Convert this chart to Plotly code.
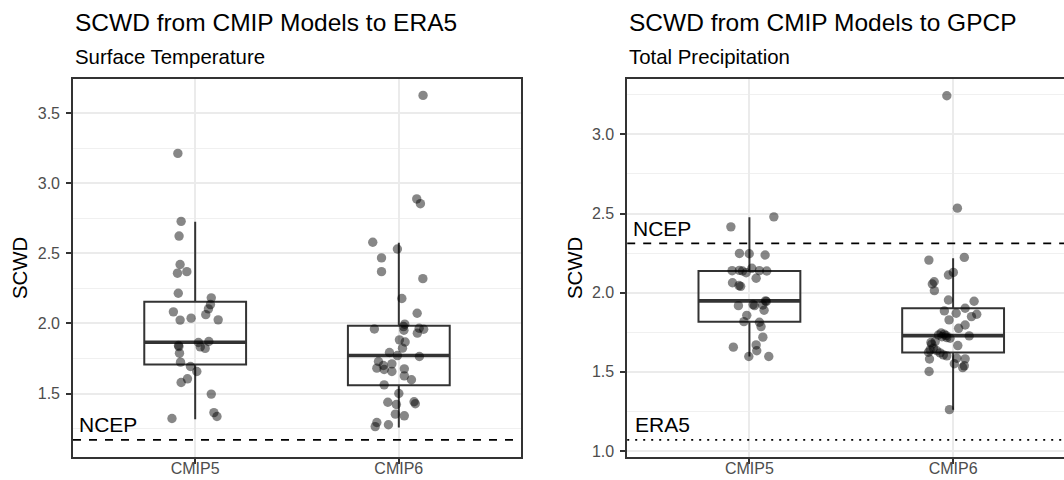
import plotly.graph_objects as go

# ---------------------------------------------------------------- data
categories = ["CMIP5", "CMIP6"]

# Surface temperature: SCWD of each model against ERA5
tas_cmip5 = [3.214, 2.729, 2.624, 2.421, 2.370, 2.359, 2.216, 2.183, 2.135, 2.104,
             2.063, 2.083, 2.024, 2.038, 2.026, 1.871, 1.864, 1.843, 1.835, 1.833,
             1.822, 1.788, 1.724, 1.693, 1.657, 1.605, 1.579, 1.496, 1.364, 1.336,
             1.322]
tas_cmip5_jitter = [-0.085, -0.069, -0.079, -0.074, -0.041, -0.087, -0.083, 0.079, 0.075, 0.065,
                    0.052, -0.107, -0.074, -0.020, 0.113, 0.067, 0.016, -0.082, -0.080, 0.025,
                    0.049, -0.077, -0.072, -0.023, 0.008, -0.038, -0.069, 0.079, 0.092, 0.107,
                    -0.114]
tas_cmip6 = [3.628, 2.889, 2.855, 2.580, 2.532, 2.468, 2.370, 2.320, 2.178, 2.073,
             1.995, 1.978, 1.966, 1.961, 1.959, 1.952, 1.931, 1.883, 1.868, 1.824,
             1.793, 1.771, 1.764, 1.729, 1.712, 1.700, 1.681, 1.676, 1.672, 1.657,
             1.626, 1.598, 1.562, 1.500, 1.441, 1.438, 1.427, 1.422, 1.353, 1.341,
             1.293, 1.277, 1.264]
tas_cmip6_jitter = [0.119, 0.088, 0.106, -0.128, -0.007, -0.085, -0.085, 0.118, 0.015, 0.090,
                    0.029, 0.023, 0.100, -0.120, 0.122, 0.025, 0.091, 0.003, 0.031, 0.018,
                    -0.046, -0.007, 0.101, -0.100, -0.034, -0.076, -0.108, 0.027, -0.072, -0.034,
                    0.027, 0.062, -0.072, 0.000, 0.075, -0.054, 0.081, -0.012, -0.017, 0.027,
                    -0.108, -0.051, -0.116]
tas_lower = [1.317, 1.258]
tas_q1 = [1.707, 1.559]
tas_median = [1.866, 1.771]
tas_q3 = [2.155, 1.983]
tas_upper = [2.726, 2.576]
tas_ref_names = ["NCEP"]
tas_ref_values = [1.169]

# Total precipitation: SCWD of each model against GPCP
pr_cmip5 = [2.479, 2.416, 2.248, 2.246, 2.238, 2.154, 2.141, 2.139, 2.139, 2.137,
            2.137, 2.126, 2.091, 2.063, 2.045, 2.040, 1.948, 1.945, 1.925, 1.922,
            1.918, 1.918, 1.889, 1.857, 1.817, 1.813, 1.786, 1.719, 1.670, 1.656,
            1.633, 1.597, 1.597]
pr_cmip5_jitter = [0.120, -0.091, -0.049, -0.001, 0.077, 0.012, -0.049, -0.085, 0.049, -0.034,
                   0.085, -0.016, 0.033, -0.083, -0.051, -0.043, 0.079, 0.083, 0.018, 0.066,
                   -0.054, 0.025, 0.072, -0.013, -0.027, 0.049, 0.057, 0.066, 0.033, -0.079,
                   0.036, -0.003, 0.095]
pr_cmip6 = [3.244, 2.534, 2.223, 2.206, 2.128, 2.112, 2.069, 2.055, 2.013, 1.954,
            1.946, 1.902, 1.885, 1.870, 1.864, 1.849, 1.828, 1.796, 1.775, 1.745,
            1.738, 1.733, 1.729, 1.727, 1.722, 1.716, 1.712, 1.691, 1.685, 1.675,
            1.666, 1.650, 1.639, 1.633, 1.624, 1.620, 1.607, 1.601, 1.586, 1.582,
            1.581, 1.551, 1.538, 1.527, 1.502, 1.261]
pr_cmip6_jitter = [-0.031, 0.021, 0.055, -0.119, 0.001, -0.023, -0.093, -0.102, -0.092, -0.023,
                   0.103, 0.059, -0.043, 0.015, 0.116, 0.090, -0.020, 0.059, 0.027, -0.059,
                   -0.044, -0.072, -0.034, 0.079, -0.055, -0.031, -0.015, -0.088, -0.109, -0.105,
                   0.023, -0.097, -0.113, -0.080, -0.121, -0.064, -0.048, -0.031, 0.018, 0.059,
                   -0.116, 0.006, 0.055, 0.047, -0.118, -0.018]
pr_lower = [1.597, 1.261]
pr_q1 = [1.817, 1.622]
pr_median = [1.948, 1.729]
pr_q3 = [2.137, 1.902]
pr_upper = [2.476, 2.218]
pr_ref_names = ["NCEP", "ERA5"]
pr_ref_values = [2.311, 1.070]

# ---------------------------------------------------------------- styling
FONT = "Liberation Sans, Arial, Helvetica, sans-serif"
W, H = 1064, 480
M_L, M_R, M_T, M_B = 73, 0, 79, 23
PW = W - M_L - M_R
PH = H - M_T - M_B
BOX_W = 0.5
DARK = "#333333"
GRID = "#EBEBEB"
REF_DASH = {"NCEP": "8px,8px", "ERA5": "2px,6px"}
REF_LABEL_X = {"NCEP": 0.42, "ERA5": 0.43}


def paper_x(px):
    return (px - M_L) / PW


def paper_y(py):
    return (H - M_B - py) / PH


fig = go.Figure()
positions = [i + 1 for i in range(len(categories))]


def add_panel(xa, ya, series, jitters, lower, q1, med, q3, upper):
    fig.add_trace(go.Box(
        x=positions, q1=q1, median=med, q3=q3, lowerfence=lower, upperfence=upper,
        width=BOX_W, whiskerwidth=0, boxpoints=False,
        line=dict(color=DARK, width=2.0), fillcolor="rgba(0,0,0,0)",
        xaxis=xa, yaxis=ya, showlegend=False, hoverinfo="skip"))
    mx, my = [], []
    for p, m in zip(positions, med):
        mx += [p - BOX_W / 2, p + BOX_W / 2, None]
        my += [m, m, None]
    fig.add_trace(go.Scatter(x=mx, y=my, mode="lines", line=dict(color=DARK, width=3.6),
                             xaxis=xa, yaxis=ya, showlegend=False, hoverinfo="skip"))
    for p, vals, jit in zip(positions, series, jitters):
        fig.add_trace(go.Scatter(
            x=[p + j for j in jit], y=vals, mode="markers",
            marker=dict(size=9.4, color="rgba(0,0,0,0.47)", line=dict(width=0)),
            xaxis=xa, yaxis=ya, showlegend=False))


add_panel("x", "y", [tas_cmip5, tas_cmip6], [tas_cmip5_jitter, tas_cmip6_jitter],
          tas_lower, tas_q1, tas_median, tas_q3, tas_upper)
add_panel("x2", "y2", [pr_cmip5, pr_cmip6], [pr_cmip5_jitter, pr_cmip6_jitter],
          pr_lower, pr_q1, pr_median, pr_q3, pr_upper)

shapes, annotations = [], []
for xa, ya, names, values in [("x", "y", tas_ref_names, tas_ref_values),
                              ("x2", "y2", pr_ref_names, pr_ref_values)]:
    for name, val in zip(names, values):
        shapes.append(dict(type="line", xref=f"{xa} domain", yref=ya, x0=0, x1=1, y0=val, y1=val,
                           line=dict(color="black", width=1.7, dash=REF_DASH[name]), layer="above"))
        annotations.append(dict(text=name, xref=xa, yref=ya, x=REF_LABEL_X[name], y=val,
                                xanchor="left", yanchor="middle", yshift=15, showarrow=False,
                                font=dict(family=FONT, size=21, color="black")))

left_dom = [0.0, paper_x(521)]
right_dom = [paper_x(627.2), 1.0]

for title, sub, x0 in [("SCWD from CMIP Models to ERA5", "Surface Temperature", left_dom[0]),
                       ("SCWD from CMIP Models to GPCP", "Total Precipitation", right_dom[0])]:
    annotations.append(dict(text=title, xref="paper", yref="paper", x=x0, y=paper_y(22.5),
                            xanchor="left", yanchor="middle", showarrow=False,
                            font=dict(family=FONT, size=24.5, color="black")))
    annotations.append(dict(text=sub, xref="paper", yref="paper", x=x0, y=paper_y(57),
                            xanchor="left", yanchor="middle", showarrow=False,
                            font=dict(family=FONT, size=20.4, color="black")))

for px in (20, 575):
    annotations.append(dict(text="SCWD", xref="paper", yref="paper", x=paper_x(px), y=0.5,
                            xanchor="center", yanchor="middle", textangle=-90, showarrow=False,
                            font=dict(family=FONT, size=20.4, color="black")))

common_x = dict(tickvals=positions, ticktext=categories, showgrid=True, gridcolor=GRID,
                gridwidth=1.8, zeroline=False, showline=True, linecolor=DARK, linewidth=1.6,
                mirror=True, ticks="outside", ticklen=5, tickwidth=1.6, tickcolor=DARK,
                automargin=False, ticklabelstandoff=-9,
                tickfont=dict(family=FONT, size=16, color="#4D4D4D"))
common_y = dict(dtick=0.5, tick0=0, tickformat=".1f", showgrid=True, gridcolor=GRID,
                gridwidth=1.8, zeroline=False, showline=True, linecolor=DARK, linewidth=1.6,
                ticks="outside", ticklen=5, tickwidth=1.6, tickcolor=DARK,
                automargin=False, ticklabelstandoff=3,
                tickfont=dict(family=FONT, size=16, color="#4D4D4D"),
                minor=dict(dtick=0.25, tick0=0, showgrid=True, gridcolor="#F0F0F0", gridwidth=1.0))

fig.update_layout(
    width=W, height=H, margin=dict(l=M_L, r=M_R, t=M_T, b=M_B),
    paper_bgcolor="white", plot_bgcolor="white", boxmode="overlay",
    font=dict(family=FONT),
    xaxis=dict(domain=left_dom, range=[0.4, 2.6], anchor="y", **common_x),
    yaxis=dict(domain=[0, 1], range=[1.047, 3.745], anchor="x", mirror=True, **common_y),
    xaxis2=dict(domain=right_dom, range=[0.4, 0.4 + (W - 627.2) / 203.7], anchor="y2", **common_x),
    yaxis2=dict(domain=[0, 1], range=[0.962, 3.350], anchor="x2", mirror=False, **common_y),
    shapes=shapes, annotations=annotations,
)

fig.write_html("out.html")
